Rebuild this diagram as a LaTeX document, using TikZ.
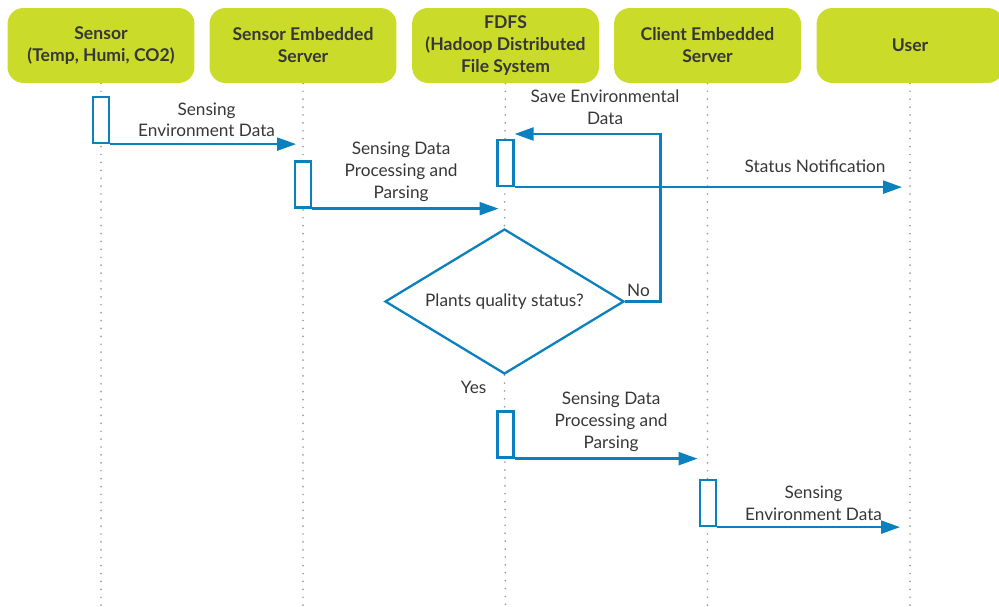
\documentclass[tikz,border=0pt]{standalone}
\usepackage{fontspec}
\setmainfont{Lato}
\usetikzlibrary{arrows.meta,shapes.geometric,backgrounds}
\definecolor{limegreen}{RGB}{203,219,42}
\definecolor{flowblue}{RGB}{10,128,190}
\definecolor{inkgray}{RGB}{55,55,55}
\tikzset{
  actor/.style={fill=limegreen, rounded corners=0.32cm, minimum width=3.74cm,
    minimum height=1.5cm, align=center, text=inkgray,
    font=\bfseries\fontsize{10}{12.5}\selectfont},
  lifeline/.style={draw=gray!75, line width=1.1pt, line cap=round,
    dash pattern=on 0pt off 4.5pt},
  activation/.style={draw=flowblue, fill=white, line width=1.3pt,
    minimum width=0.32cm, minimum height=0.92cm, inner sep=0pt},
  msg/.style={draw=flowblue, line width=1.3pt,
    -{Triangle[length=0.38cm,width=0.26cm]}},
  msglabel/.style={align=center, text=inkgray,
    font=\fontsize{9.8}{12.5}\selectfont},
  decision/.style={diamond, aspect=1.65, draw=flowblue, fill=white,
    line width=1.3pt, minimum width=4.78cm, minimum height=2.9cm,
    inner sep=0pt, text=inkgray, font=\fontsize{9.8}{12.5}\selectfont}
}
\begin{document}
\begin{tikzpicture}[x=0.02cm, y=-0.02cm]
  \useasboundingbox (0,0) rectangle (999,607);
  \coordinate (bottom) at (0,607);
  % actors
  \node[actor] (sensor) at (101,45.5) {Sensor\\(Temp, Humi, CO2)};
  \node[actor] (ses)    at (303,45.5) {Sensor Embedded\\Server};
  \node[actor] (fdfs)   at (505.5,45.5) {FDFS\\(Hadoop Distributed\\File System};
  \node[actor] (ces)    at (707.5,45.5) {Client Embedded\\Server};
  \node[actor] (user)   at (910,45.5) {User};
  % activations
  \node[activation] (act1) at (101,120) {};
  \node[activation] (act2) at (303,184.5) {};
  \node[activation] (act3) at (505.5,163) {};
  \node[activation] (act4) at (505.5,434.5) {};
  \node[activation] (act5) at (708,503) {};
  % decision
  \node[decision] (check) at (504.5,301.5) {Plants quality status?};
  % lifelines
  \begin{pgfonlayer}{background}
    \draw[lifeline] (sensor.south) -- (sensor.south |- bottom);
    \draw[lifeline] (ses.south) -- (ses.south |- bottom);
    \draw[lifeline] (fdfs.south) -- (check.north);
    \draw[lifeline] (check.south) -- (fdfs.south |- bottom);
    \draw[lifeline] (ces.south) -- (ces.south |- bottom);
    \draw[lifeline] (user.south) -- (user.south |- bottom);
  \end{pgfonlayer}
  % messages
  \draw[msg, shorten >=0.14cm] (act1.south east) -- (act1.south east -| ses.south)
    node[msglabel, midway, above] {Sensing\\Environment Data};
  \draw[msg, shorten >=0.14cm] (act2.south east) -- (act2.south east -| fdfs.south)
    node[msglabel, pos=0.46, above] {Sensing Data\\Processing and\\Parsing};
  \draw[msg, shorten >=0.16cm] (act3.south east) -- (act3.south east -| user.south)
    node[msglabel, pos=0.76, above, yshift=0.15cm] {Status Notification};
  % no: back to storage
  \coordinate (noturn) at (660.5,134);
  \draw[msg] (check.east) -- (check.east -| noturn) -- (noturn) -- (noturn -| act3.east)
    node[msglabel, pos=0.38, above, yshift=0.04cm] {Save Environmental\\Data};
  \node[msglabel, above right, inner sep=1pt, yshift=0.06cm] (nolabel) at (check.east) {No};
  \node[msglabel, below left, xshift=-0.24cm] (yeslabel) at (check.south) {Yes};
  % yes: on to the client
  \draw[msg, shorten >=0.2cm] (act4.south east) -- (act4.south east -| ces.south)
    node[msglabel, midway, above] {Sensing Data\\Processing and\\Parsing};
  \draw[msg, shorten >=0.2cm] (act5.south east) -- (act5.south east -| user.south)
    node[msglabel, midway, above] {Sensing\\Environment Data};
\end{tikzpicture}
\end{document}
